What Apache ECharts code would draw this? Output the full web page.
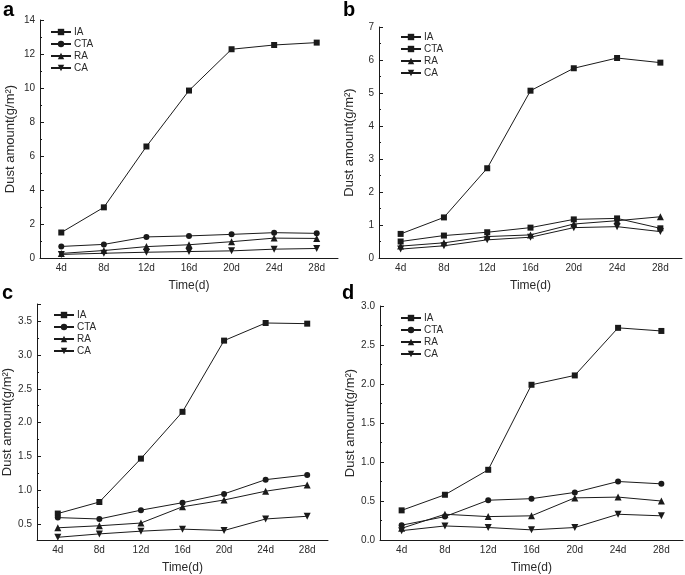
<!DOCTYPE html>
<html>
<head>
    <meta charset="utf-8">
    <title>Dust amount</title>
    <style>
        html,body,#main{
            height: 100%;
            width: 100%;
            padding: 0;
            margin: 0;
            background: #fff;
        }
    </style>
</head>
<body>
    <div id="main"></div>
    <script src="https://cdn.jsdelivr.net/npm/echarts@6/dist/echarts.min.js"></script>
    <script>
        // time points
        var days = ['4d', '8d', '12d', '16d', '20d', '24d', '28d'];
        var names = ['IA', 'CTA', 'RA', 'CA'];

        // panel a
        var aIA  = [1.5, 2.98, 6.56, 9.85, 12.28, 12.53, 12.67];
        var aCTA = [0.68, 0.8, 1.24, 1.3, 1.39, 1.49, 1.45];
        var aRA  = [0.27, 0.44, 0.67, 0.78, 0.96, 1.17, 1.15];
        var aCA  = [0.21, 0.28, 0.34, 0.38, 0.42, 0.52, 0.56];
        // panel b
        var bIA  = [0.73, 1.23, 2.72, 5.07, 5.75, 6.06, 5.92];
        var bCTA = [0.5, 0.68, 0.78, 0.92, 1.17, 1.2, 0.9];
        var bRA  = [0.36, 0.46, 0.65, 0.7, 1.03, 1.13, 1.25];
        var bCA  = [0.27, 0.37, 0.55, 0.63, 0.92, 0.95, 0.8];
        // panel c
        var cIA  = [0.66, 0.83, 1.47, 2.16, 3.21, 3.47, 3.46];
        var cCTA = [0.6, 0.58, 0.71, 0.82, 0.95, 1.16, 1.23];
        var cRA  = [0.45, 0.48, 0.52, 0.76, 0.86, 0.99, 1.08];
        var cCA  = [0.31, 0.36, 0.4, 0.43, 0.41, 0.58, 0.62];
        // panel d
        var dIA  = [0.38, 0.58, 0.9, 1.99, 2.11, 2.72, 2.68];
        var dCTA = [0.19, 0.3, 0.51, 0.53, 0.61, 0.75, 0.72];
        var dRA  = [0.15, 0.33, 0.3, 0.31, 0.54, 0.55, 0.5];
        var dCA  = [0.12, 0.18, 0.16, 0.13, 0.16, 0.33, 0.31];

        var FONT = '"Liberation Sans", Arial, sans-serif';
        var INK = '#1a1a1a';
        var TXT = '#2a2a2a';
        var downTri = 'path://M0,0 L10,0 L5,9 Z';

        var panels = [
            {key: 'a', data: [aIA, aCTA, aRA, aCA], grid: {left: 40, right: 347, top: 20, bottom: 317},
             y: {min: 0, max: 14, interval: 2}, legend: {left: 50, top: 27}, sym: ['rect', 'circle', 'triangle', downTri],
             letter: [3, 0]},
            {key: 'b', data: [bIA, bCTA, bRA, bCA], grid: {left: 379, right: 3, top: 27, bottom: 317},
             y: {min: 0, max: 7, interval: 1}, legend: {left: 400, top: 32}, sym: ['rect', 'rect', 'triangle', downTri],
             letter: [343, 0]},
            {key: 'c', data: [cIA, cCTA, cRA, cCA], grid: {left: 36, right: 357, top: 304, bottom: 33},
             y: {min: 0.27, max: 3.75, splitNumber: 7, dec: 1}, legend: {left: 53, top: 310}, sym: ['rect', 'circle', 'triangle', downTri],
             letter: [2, 283]},
            {key: 'd', data: [dIA, dCTA, dRA, dCA], grid: {left: 380, right: 2, top: 306, bottom: 32},
             y: {min: 0, max: 3, interval: 0.5, dec: 1}, legend: {left: 400, top: 313}, sym: ['rect', 'circle', 'triangle', downTri],
             letter: [342, 283]}
        ];

        var grid = [], xAxis = [], yAxis = [], series = [], legend = [], graphic = [];

        panels.forEach(function (p, i) {
            grid.push(p.grid);
            // main category axis with labels
            xAxis.push({
                type: 'category', gridIndex: i, data: days, boundaryGap: true,
                name: 'Time(d)', nameLocation: 'middle', nameGap: 22,
                nameTextStyle: {fontFamily: FONT, fontSize: 12, color: TXT},
                axisLine: {lineStyle: {color: INK, width: 1}},
                axisTick: {alignWithLabel: true, inside: true, length: 4, lineStyle: {color: INK}},
                axisLabel: {fontFamily: FONT, fontSize: 10, color: TXT, margin: 5},
                splitLine: {show: false}
            });
            // overlay axis only for the minor ticks between days
            xAxis.push({
                type: 'category', gridIndex: i, data: days, position: 'bottom',
                axisLine: {show: false}, axisLabel: {show: false},
                axisTick: {inside: true, length: 2, lineStyle: {color: INK}},
                splitLine: {show: false}
            });
            var y = {
                type: 'value', gridIndex: i, min: p.y.min, max: p.y.max,
                name: 'Dust amount(g/m²)', nameLocation: 'middle', nameGap: 23,
                nameTextStyle: {fontFamily: FONT, fontSize: 13, color: TXT},
                axisLine: {show: true, lineStyle: {color: INK, width: 1}},
                axisTick: {show: true, inside: true, length: 4, lineStyle: {color: INK}},
                minorTick: {show: true, splitNumber: 2, length: 2, lineStyle: {color: INK}},
                axisLabel: {fontFamily: FONT, fontSize: 10, color: TXT, margin: 5,
                    showMinLabel: p.y.interval != null, showMaxLabel: p.y.interval != null,
                    formatter: (function (dec) {
                        return function (v) { return dec ? v.toFixed(dec) : String(v); };
                    })(p.y.dec)},
                splitLine: {show: false}
            };
            if (p.y.interval != null) y.interval = p.y.interval;
            if (p.y.splitNumber) y.splitNumber = p.y.splitNumber;
            yAxis.push(y);

            var legendData = [];
            names.forEach(function (n, k) {
                var sname = n + '|' + p.key;
                legendData.push(sname);
                series.push({
                    type: 'line', name: sname, xAxisIndex: i * 2, yAxisIndex: i,
                    data: p.data[k],
                    symbol: p.sym[k], symbolSize: k >= 2 ? 7 : 6,
                    lineStyle: {color: INK, width: 1},
                    itemStyle: {color: INK},
                    animation: false
                });
            });
            legend.push({
                orient: 'vertical', left: p.legend.left, top: p.legend.top,
                data: legendData, itemWidth: 20, itemHeight: 8, itemGap: 2,
                selectedMode: false, padding: 0,
                textStyle: {fontFamily: FONT, fontSize: 10, lineHeight: 10, color: TXT, padding: [0, 0, 0, -2]},
                formatter: function (name) { return name.split('|')[0]; }
            });
            graphic.push({
                type: 'text', left: p.letter[0], top: p.letter[1],
                style: {text: p.key, font: 'bold 20px ' + FONT, fill: '#000'}
            });
        });

        var chart = echarts.init(document.getElementById('main'));
        chart.setOption({
            backgroundColor: '#fff',
            animation: false,
            grid: grid,
            xAxis: xAxis,
            yAxis: yAxis,
            legend: legend,
            series: series,
            graphic: graphic
        });
    </script>
</body>
</html>
